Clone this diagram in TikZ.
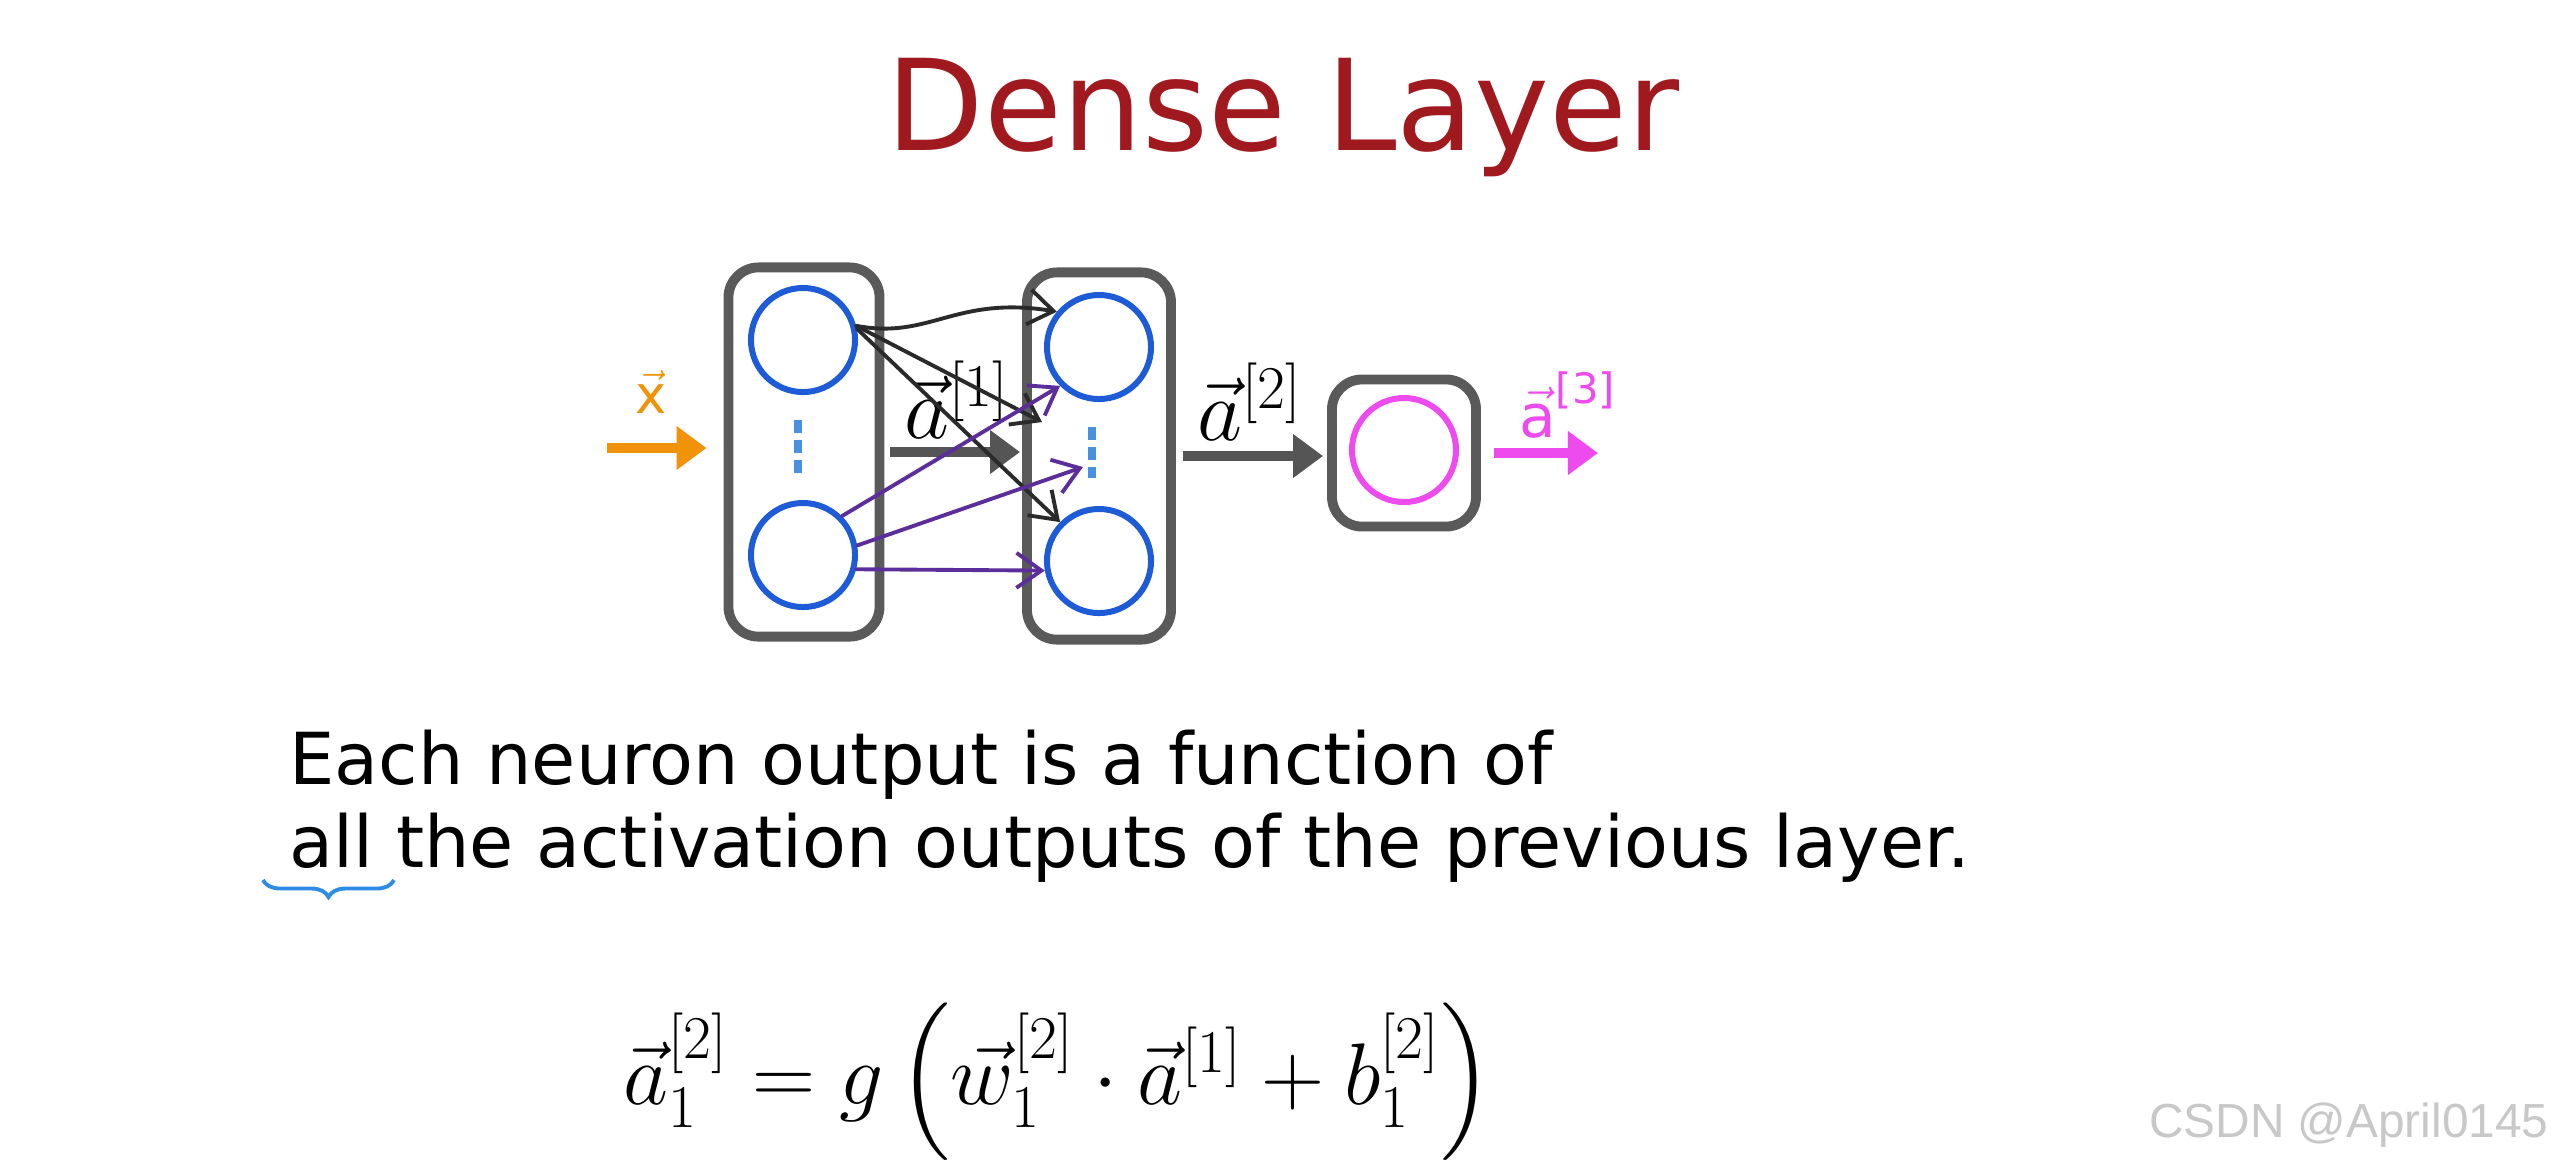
\documentclass[tikz,border=0pt]{standalone}
\usepackage{amsmath}
\usepackage[no-math]{fontspec}
\setmainfont{DejaVu Sans}
\newfontfamily\markfont{Liberation Sans}
\usetikzlibrary{calc, arrows.meta, decorations.pathreplacing}
\definecolor{titlered}{HTML}{A0191E}
\definecolor{boxgray}{HTML}{5A5A5A}
\definecolor{neuronblue}{HTML}{1E5BD6}
\definecolor{dotblue}{HTML}{4A90E2}
\definecolor{inputorange}{HTML}{F0930A}
\definecolor{outmagenta}{HTML}{EE4BEE}
\definecolor{flowgray}{HTML}{555555}
\definecolor{inkblack}{HTML}{2A2A2A}
\definecolor{inkpurple}{HTML}{5B2E9C}
\definecolor{bracebl}{HTML}{2E8BE6}
\definecolor{markgray}{HTML}{C8C8C8}

\begin{document}
\begin{tikzpicture}[
    x=0.01cm, y=-0.01cm,
    layerbox/.style={draw=boxgray, line width=2.8pt, rounded corners=0.3cm, fill=white, inner sep=0pt},
    neuron/.style={circle, draw=neuronblue, line width=1.7pt, minimum size=1.04cm, inner sep=0pt},
    flow/.style={line width=2.6pt, -{Triangle[length=3mm, width=4.2mm]}},
    hand/.style={line width=1.1pt, line cap=round, -{Straight Barb[length=2.5mm, width=3.5mm]}},
    neurondots/.style={line width=2.2pt, dotblue, dash pattern=on 0.13cm off 0.07cm}
]

% Page
\useasboundingbox[fill=white] (0,0) rectangle (2559,1162);

% Title
\node[anchor=base, text=titlered, font=\fontsize{36}{40}\selectfont] (title) at (1283,150) {Dense Layer};

% Layers
\node[layerbox, minimum width=1.51cm, minimum height=3.69cm] (L1) at (804,452) {};
\node[layerbox, minimum width=1.44cm, minimum height=3.67cm] (L2) at (1099,456) {};
\node[layerbox, minimum width=1.44cm, minimum height=1.47cm] (L3) at (1404,453) {};

% Neurons
\node[neuron] (n11) at (803,340) {};
\node[neuron] (n12) at (803,555) {};
\node[neuron] (n21) at (1099,347) {};
\node[neuron] (n22) at (1099,561) {};
\node[neuron, draw=outmagenta] (n31) at (1404,450) {};
\draw[neurondots] (798,420) -- (798,473);
\draw[neurondots] (1092,427) -- (1092,478);

% Flow between layers
\coordinate (xin) at (607,448);
\coordinate (aout) at (1598,452);
\draw[flow, inputorange] (xin) -- (xin -| L1.west) [shorten >=0.17cm];
\draw[flow, flowgray, shorten <=0.06cm, shorten >=0.02cm] (L1.east) -- (L1.east -| L2.west);
\draw[flow, flowgray, shorten <=0.07cm, shorten >=0.04cm] (L2.east) -- (L2.east -| L3.west);
\draw[flow, outmagenta, shorten <=0.13cm] (L3.east) -- (L3.east -| aout);

% Labels
\node[text=inputorange, font=\fontsize{15}{15}\selectfont] (xlab) at (651,392) {$\vec{\text{x}}$};
\node[font=\fontsize{23}{23}\selectfont] (a1lab) at (957,400) {$\vec{a}^{[1]}$};
\node[font=\fontsize{23}{23}\selectfont] (a2lab) at (1250,402) {$\vec{a}^{[2]}$};
\node[text=outmagenta, font=\fontsize{17}{17}\selectfont] (a3lab) at (1568,405) {$\vec{\text{a}}^{\text{[3]}}$};

% Hand-drawn connections
\coordinate (dm) at (1042,422);
\coordinate (dp) at (1083,467);
\draw[hand, inkblack] (n11.15) .. controls (930,340) and (955,295) .. (n21.140);
\draw[hand, inkblack] (n11.15) -- (dm);
\draw[hand, inkblack] (n11.12) -- (n22.135);
\draw[hand, inkpurple] (n12.45) -- (n21.225);
\draw[hand, inkpurple] (n12.10) -- (dp);
\draw[hand, inkpurple] (n12.-15) -- (n22.190);

% Text
\node[anchor=base west, font=\fontsize{20.4}{24}\selectfont] (line1) at (277,784) {Each neuron output is a function of};
\node[anchor=base west, font=\fontsize{20.4}{24}\selectfont] (line2) at (277,867) {all the activation outputs of the previous layer.};
\draw[bracebl, line width=1.1pt, decorate, decoration={brace, amplitude=0.17cm}] (394,880) -- (263,880);

% Equation
\node[anchor=base, font=\fontsize{23}{27}\selectfont] (eq) at (1058,1104)
    {$\vec{a}_1^{[2]} = g\left(\vec{w}_1^{[2]}\cdot\vec{a}^{[1]} + b_1^{[2]}\right)$};

% Watermark
\node[anchor=base east, text=markgray, font=\markfont\fontsize{13.6}{14}\selectfont] (mark) at (2561,1137) {CSDN @April0145};

\end{tikzpicture}
\end{document}
